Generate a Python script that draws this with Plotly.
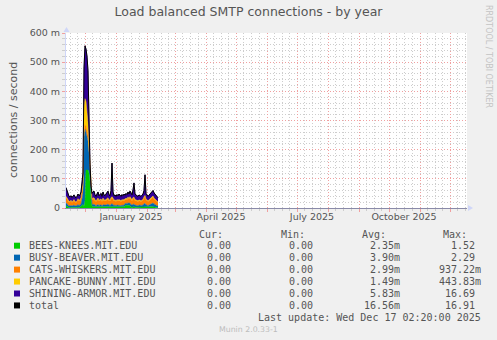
import pandas as pd
import plotly.graph_objects as go

# ---------------------------------------------------------------- data
days = pd.date_range("2024-11-12", periods=93, freq="D")

hosts = [
    "BEES-KNEES.MIT.EDU",
    "BUSY-BEAVER.MIT.EDU",
    "CATS-WHISKERS.MIT.EDU",
    "PANCAKE-BUNNY.MIT.EDU",
    "SHINING-ARMOR.MIT.EDU",
]
host_colors = ["#00CC00", "#0066B3", "#FF8000", "#FFCC00", "#330099"]

# daily average connections per second (milli-units: 40 -> 40 m)
bees_knees = [8, 6, 3, 2, 2, 3, 2, 2, 3, 2, 2, 3, 4, 3, 3, 5, 10, 12, 5, 25,
              130, 130, 130, 120, 90, 30, 5, 4, 4, 3, 2, 3, 4, 3, 3, 3, 2, 4,
              3, 3, 3, 4, 4, 3, 3, 4, 4, 4, 3, 3, 2, 3, 3, 3, 3, 2, 3, 3, 4,
              8, 10, 9, 10, 9, 8, 3, 3, 4, 4, 3, 3, 3, 2, 3, 3, 2, 3, 3, 4, 4,
              3, 3, 2, 3, 4, 5, 5, 5, 4, 3, 3, 2, 2]
busy_beaver = [10, 8, 6, 5, 5, 6, 5, 6, 7, 5, 5, 6, 8, 6, 7, 9, 20, 40, 240,
               245, 130, 115, 100, 70, 30, 12, 8, 8, 9, 7, 6, 7, 8, 6, 7, 8, 6,
               8, 7, 6, 7, 8, 9, 7, 6, 9, 10, 8, 6, 7, 6, 7, 6, 7, 6, 6, 7, 6,
               7, 6, 7, 6, 8, 7, 9, 8, 7, 9, 9, 7, 6, 6, 6, 7, 6, 6, 6, 8, 10,
               12, 8, 6, 6, 7, 8, 10, 12, 12, 10, 8, 7, 6, 5]
cats_whiskers = [18, 16, 14, 14, 13, 15, 12, 14, 16, 13, 12, 14, 17, 15, 15,
                 18, 20, 22, 15, 15, 20, 20, 20, 15, 12, 14, 16, 18, 18, 15,
                 14, 16, 18, 15, 15, 17, 14, 18, 15, 15, 16, 17, 18, 15, 15,
                 18, 20, 18, 15, 15, 14, 16, 15, 16, 15, 14, 16, 15, 16, 13,
                 14, 13, 16, 14, 18, 17, 15, 19, 20, 16, 15, 15, 14, 15, 15,
                 14, 15, 16, 20, 22, 17, 15, 14, 15, 16, 18, 19, 20, 17, 16,
                 15, 14, 12]
pancake_bunny = [4, 3, 3, 2, 2, 3, 2, 3, 3, 2, 2, 2, 3, 3, 3, 4, 8, 15, 90, 90,
                 85, 70, 40, 15, 5, 4, 3, 4, 4, 3, 3, 3, 4, 3, 3, 3, 3, 4, 3,
                 3, 3, 3, 4, 3, 3, 4, 5, 4, 3, 3, 3, 3, 3, 3, 3, 3, 3, 3, 3, 3,
                 3, 3, 4, 3, 4, 3, 3, 4, 4, 3, 3, 3, 3, 3, 3, 3, 3, 3, 4, 5, 3,
                 3, 3, 3, 3, 4, 4, 4, 3, 3, 3, 3, 2]
shining_armor = [30, 27, 19, 17, 16, 15, 15, 15, 16, 16, 14, 15, 16, 15, 17,
                 19, 27, 31, 130, 181, 180, 185, 180, 40, 13, 15, 18, 21, 23,
                 17, 15, 19, 21, 15, 17, 19, 15, 21, 17, 15, 19, 20, 23, 17,
                 15, 25, 115, 21, 15, 17, 15, 17, 15, 19, 17, 15, 17, 15, 18,
                 14, 16, 15, 17, 15, 19, 19, 17, 26, 49, 19, 17, 15, 15, 17,
                 15, 15, 17, 18, 22, 71, 19, 15, 15, 16, 17, 18, 18, 19, 18,
                 18, 16, 15, 14]
series = [bees_knees, busy_beaver, cats_whiskers, pancake_bunny, shining_armor]
total = [sum(v) for v in zip(*series)]

y_ticks = [0, 100, 200, 300, 400, 500, 600]
y_labels = ["0", "100 m", "200 m", "300 m", "400 m", "500 m", "600 m"]
x_label_dates = ["2025-01-16", "2025-04-16", "2025-07-16", "2025-10-16"]
x_labels = ["January 2025", "April 2025", "July 2025", "October 2025"]

cur_vals = ["0.00", "0.00", "0.00", "0.00", "0.00", "0.00"]
min_vals = ["0.00", "0.00", "0.00", "0.00", "0.00", "0.00"]
avg_vals = ["2.35m", "3.90m", "2.99m", "1.49m", "5.83m", "16.56m"]
max_vals = ["1.52", "2.29", "937.22m", "443.83m", "16.69", "16.91"]

# ---------------------------------------------------------------- style
W, H = 497, 340
X0, X1, Y0, Y1 = 66, 467, 33, 208          # canvas box in pixels
X_RANGE = ["2024-11-12", "2025-12-18"]
SANS, MONO = "DejaVu Sans", "DejaVu Sans Mono"
FONT_C = "#555555"
RED, GRAY = "#f0a0a0", "#cdcdcd"
AXIS_C, ARROW_C = "#CFD6F8", "#CFD6F8"
DOTS = "1px,2px"


def px(x):
    return (x - X0) / (X1 - X0)


def py(y):
    return (Y1 - y) / (Y1 - Y0)


# minor vertical grid: quarter-month steps
minor_x = []
for m in pd.date_range("2024-11-01", "2025-12-01", freq="MS"):
    n = m.days_in_month
    for k in (1, 2, 3):
        minor_x.append((m + pd.Timedelta(days=n * k / 4)).strftime("%Y-%m-%d %H:%M"))

fig = go.Figure()
for name, vals, color in zip(hosts, series, host_colors):
    fig.add_trace(go.Scatter(
        x=days, y=vals, name=name, stackgroup="hosts", mode="lines",
        line=dict(width=0.5, color=color), fillcolor=color,
        hoverinfo="skip", showlegend=False,
    ))
fig.add_trace(go.Scatter(
    x=days, y=total, name="total", mode="lines", xaxis="x2",
    line=dict(width=1, color="#000000"), hoverinfo="skip", showlegend=False,
))

ann = []


def text(x, y, s, size=10, family=MONO, color=FONT_C, xanchor="left", angle=0):
    ann.append(dict(xref="paper", yref="paper", x=px(x), y=py(y), text=s,
                    showarrow=False, xanchor=xanchor, yanchor="middle",
                    textangle=angle,
                    font=dict(family=family, size=size, color=color)))


text(13, 120, "connections / second", size=11, family=SANS, xanchor="center",
     angle=-90)
text(489, 57, "RRDTOOL / TOBI OETIKER", size=8, family=SANS, color="#c4c4c4",
     xanchor="center", angle=90)

# legend block
for hdr, xr in zip(["Cur:", "Min:", "Avg:", "Max:"], [225.3, 306.7, 387.7, 469]):
    text(xr, 234, hdr, xanchor="right")

shapes = []
names = hosts + ["total"]
sw_colors = host_colors + ["#000000"]
for i, (nm, c) in enumerate(zip(names, sw_colors)):
    yy = 245.7 + 11.95 * i
    shapes.append(dict(type="rect", xref="paper", yref="paper",
                       x0=px(14), x1=px(20), y0=py(yy - 3), y1=py(yy + 3),
                       fillcolor=c, line=dict(width=0)))
    text(26.7, yy, nm)
    text(233.3, yy, cur_vals[i], xanchor="right")
    text(315, yy, min_vals[i], xanchor="right")
    text(402.3, yy, avg_vals[i], xanchor="right")
    mx = max_vals[i]
    text(483.3 if mx.endswith("m") else 477.3, yy, mx, xanchor="right")

text(483.3, 317.3, "Last update: Wed Dec 17 02:20:00 2025", xanchor="right")
text(248.7, 329.3, "Munin 2.0.33-1", size=7.8, family=SANS, color="#bdbdbd",
     xanchor="center")

# axis arrows
shapes.append(dict(type="path", xref="paper", yref="paper",
                   path=f"M {px(63.5)} {py(32)} L {px(69.5)} {py(32)} L {px(66.5)} {py(27)} Z",
                   fillcolor=ARROW_C, line=dict(width=0)))
shapes.append(dict(type="path", xref="paper", yref="paper",
                   path=f"M {px(468)} {py(205)} L {px(468)} {py(211)} L {px(473)} {py(208)} Z",
                   fillcolor=ARROW_C, line=dict(width=0)))

fig.update_layout(
    width=W, height=H,
    margin=dict(l=X0, r=W - X1, t=Y0, b=H - Y1, pad=0, autoexpand=False),
    paper_bgcolor="#F0F0F0", plot_bgcolor="#FFFFFF",
    title=dict(text="Load balanced SMTP connections - by year",
               x=0.5, xref="container", xanchor="center",
               y=1 - 12 / H, yref="container", yanchor="middle",
               font=dict(family=SANS, size=12.5, color=FONT_C)),
    xaxis=dict(type="date", range=X_RANGE, tickmode="array",
               tickvals=x_label_dates, ticktext=x_labels, ticks="",
               showgrid=False, zeroline=False, showline=True,
               linecolor="#8a8aa8", linewidth=1,
               tickfont=dict(family=SANS, size=9.5, color=FONT_C),
               minor=dict(tickmode="array", tickvals=minor_x, showgrid=True,
                          gridcolor=GRAY, griddash=DOTS, gridwidth=1,
                          ticks="outside", ticklen=2, tickcolor=GRAY),
               fixedrange=True),
    xaxis2=dict(type="date", range=X_RANGE, overlaying="x", anchor="y",
                side="bottom", tickmode="linear", tick0="2024-12-01",
                dtick="M1", showticklabels=False, showgrid=True,
                gridcolor=RED, griddash=DOTS, gridwidth=1, ticks="outside",
                ticklen=3, tickcolor=RED, showline=False, zeroline=False,
                fixedrange=True),
    yaxis=dict(range=[0, 600], tickmode="array", tickvals=y_ticks,
               ticktext=y_labels, showgrid=True, gridcolor=RED,
               griddash=DOTS, gridwidth=1, ticks="outside", ticklen=3,
               tickcolor=RED, showline=True, linecolor=AXIS_C, zeroline=False,
               tickfont=dict(family=SANS, size=9.5, color=FONT_C),
               minor=dict(dtick=20, showgrid=True, gridcolor=GRAY,
                          griddash=DOTS, gridwidth=1, ticks="outside",
                          ticklen=3, tickcolor=GRAY),
               fixedrange=True),
    annotations=ann,
    shapes=shapes,
    showlegend=False,
)

fig.write_html("out.html", config={"displayModeBar": False, "staticPlot": True})
